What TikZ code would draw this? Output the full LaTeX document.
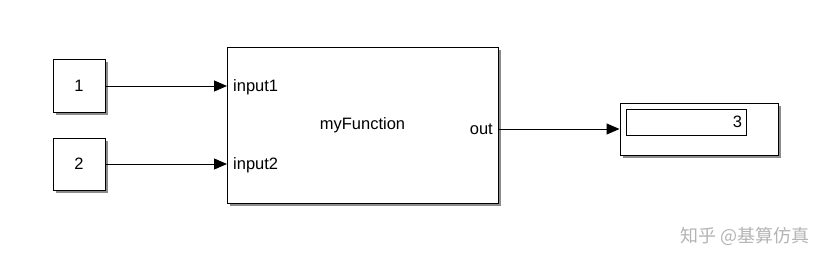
\documentclass[tikz,border=0pt]{standalone}
\usepackage{fontspec}
\setmainfont{Liberation Sans}
\newfontfamily\cjkfont{Noto Sans CJK SC}
\usepackage{tikz}
\usetikzlibrary{arrows.meta, positioning, shadows, calc}
\definecolor{colorSombra}{HTML}{8C8C8C}
\definecolor{colorMarca}{HTML}{B4B4B4}

\begin{document}
\begin{tikzpicture}[x=1pt, y=-1pt,
        blk/.style={draw=black, fill=white, line width=1pt, inner sep=0pt,
            drop shadow={shadow xshift=2.5pt, shadow yshift=-2.5pt, fill=colorSombra, opacity=1},
            font=\fontsize{16.5}{18}\selectfont},
        port/.style={inner sep=0pt, text depth=0pt, font=\fontsize{16.5}{18}\selectfont},
        sig/.style={-{Triangle[length=13pt, width=11pt]}, line width=1pt}
    ]
        \useasboundingbox (0,0) rectangle (832,268);
        \node[blk, minimum width=52pt, minimum height=53pt] (src1) at (79,86) {1};
        \node[blk, minimum width=52pt, minimum height=52pt] (src2) at (79,164) {2};
        \node[blk, minimum width=271pt, minimum height=156pt] (fcn) at (362.5,125) {myFunction};
        \node[port, anchor=west, inner xsep=6pt] (in1) at (227,86) {input1};
        \node[port, anchor=west, inner xsep=6pt] (in2) at (227,164) {input2};
        \node[port, anchor=east, inner xsep=5pt] (out) at (498,129) {out};
        \node[blk, minimum width=158pt, minimum height=52pt] (disp) at (699,129) {};
        \node[draw=black, line width=1pt, fill=white, minimum width=120pt, minimum height=26pt,
            text width=112pt, align=right, inner sep=4pt, font=\fontsize{16.5}{18}\selectfont]
            (dispval) at (686,122) {3};
        \draw[sig] (src1) -- (in1.west);
        \draw[sig] (src2) -- (in2.west);
        \draw[sig] (out.east) -- (disp.west);
        % marca de agua
        \node[text=colorMarca, anchor=east, font=\cjkfont\fontsize{18}{20}\selectfont] (marca) at (813,236) {知乎 @基算仿真};
    \end{tikzpicture}
\end{document}
